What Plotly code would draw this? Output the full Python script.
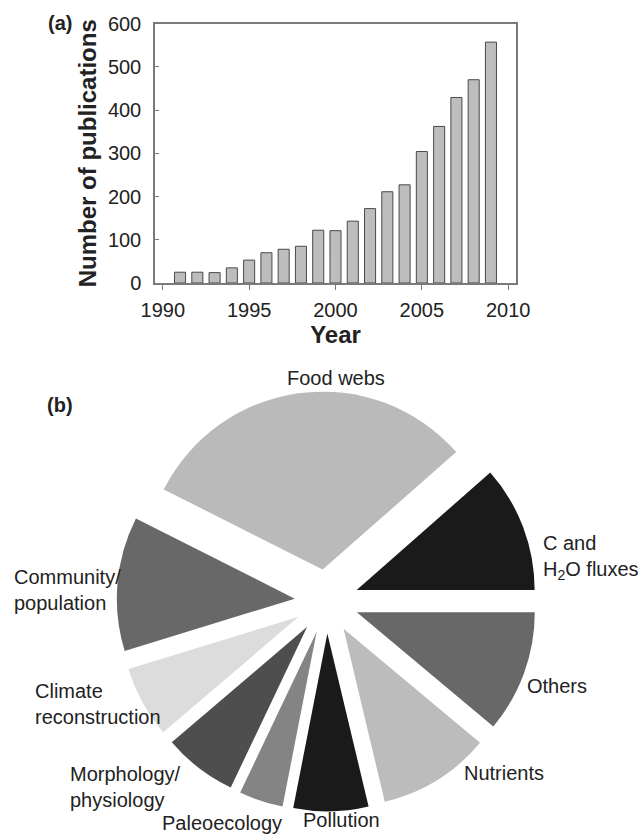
import plotly.graph_objects as go

W, H = 639, 836

# ---- data (a) ----
years = [1991, 1992, 1993, 1994, 1995, 1996, 1997, 1998, 1999, 2000,
         2001, 2002, 2003, 2004, 2005, 2006, 2007, 2008, 2009]
publications = [25, 25, 24, 35, 53, 70, 78, 85, 122, 121,
                143, 172, 211, 227, 304, 362, 429, 470, 557]
y_ticks = [0, 100, 200, 300, 400, 500, 600]
x_ticks = [1990, 1995, 2000, 2005, 2010]

# ---- data (b) ----  (clockwise from 3 o'clock)
topics = ["Others", "Nutrients", "Pollution", "Paleoecology",
          "Morphology/<br>physiology", "Climate<br>reconstruction",
          "Community/<br>population", "Food webs", "C and<br>H<sub>2</sub>O fluxes"]
shares = [11.1, 10.2, 6.8, 4.0, 6.7, 6.5, 12.2, 31.1, 11.5]
slice_colors = ["#686868", "#bcbcbc", "#1a1a1a", "#848484", "#4e4e4e",
                "#dcdcdc", "#686868", "#bababa", "#1a1a1a"]

# label placement (pixels): x, y, xanchor
label_pos = [(525, 686, "left"), (462, 773, "left"), (341, 820, "center"),
             (222, 823, "center"), (68, 787, "left"), (33, 704, "left"),
             (12, 590, "left"), (336, 378, "center"), (541, 557, "left")]

FONT = "Liberation Sans, Arial, sans-serif"

def px(x):
    return x / W

def py(y):
    return 1 - y / H

fig = go.Figure()

fig.add_trace(go.Bar(
    x=years, y=publications, width=0.64,
    marker=dict(color="#bdbdbd", line=dict(color="#4a4a4a", width=1)),
    xaxis="x", yaxis="y", showlegend=False,
))

fig.add_trace(go.Pie(
    values=shares, labels=topics, sort=False, direction="clockwise",
    rotation=90, pull=[0.18] * len(shares), textinfo="none",
    marker=dict(colors=slice_colors, line=dict(width=0)),
    domain=dict(x=[px(116.7), px(536.7)], y=[py(811.4), py(391.4)]),
    showlegend=False, hoverinfo="label+percent", automargin=False,
))

axis_line = "#7a7a7a"
fig.update_layout(
    width=W, height=H,
    margin=dict(l=0, r=0, t=0, b=0, pad=0, autoexpand=False),
    paper_bgcolor="white", plot_bgcolor="white",
    font=dict(family=FONT, color="#222222"),
    xaxis=dict(
        domain=[px(155), px(516)], range=[1989.55, 2010.45],
        tickvals=x_ticks, ticks="outside", ticklen=5, tickcolor=axis_line,
        showline=True, linecolor=axis_line, linewidth=1.5, mirror=True,
        showgrid=False, zeroline=False, anchor="y", automargin=False,
        tickfont=dict(size=20, color="#222222"), ticklabelstandoff=3,
        title=dict(text="<b>Year</b>", font=dict(size=24), standoff=2),
    ),
    yaxis=dict(
        domain=[py(283), py(23.5)], range=[0, 600],
        tickvals=y_ticks, ticks="inside", ticklen=4, tickcolor=axis_line,
        showline=True, linecolor=axis_line, linewidth=1.5, mirror=True,
        showgrid=False, zeroline=False, anchor="x", automargin=False,
        tickfont=dict(size=20, color="#222222"), ticklabelstandoff=8,
        title=dict(text="<b>Number of publications</b>", font=dict(size=24), standoff=4),
    ),
)

annotations = [
    dict(text="<b>(a)</b>", x=px(46), y=py(23), xanchor="left", yanchor="middle",
         font=dict(size=20)),
    dict(text="<b>(b)</b>", x=px(45), y=py(405), xanchor="left", yanchor="middle",
         font=dict(size=20)),
]
for name, (lx, ly, anc) in zip(topics, label_pos):
    annotations.append(dict(text=name, x=px(lx), y=py(ly), xanchor=anc,
                            yanchor="middle", align=anc if anc != "center" else "center",
                            font=dict(size=20, color="#222222")))
for a in annotations:
    a.update(xref="paper", yref="paper", showarrow=False)
fig.update_layout(annotations=annotations)

fig.write_html("out.html")
